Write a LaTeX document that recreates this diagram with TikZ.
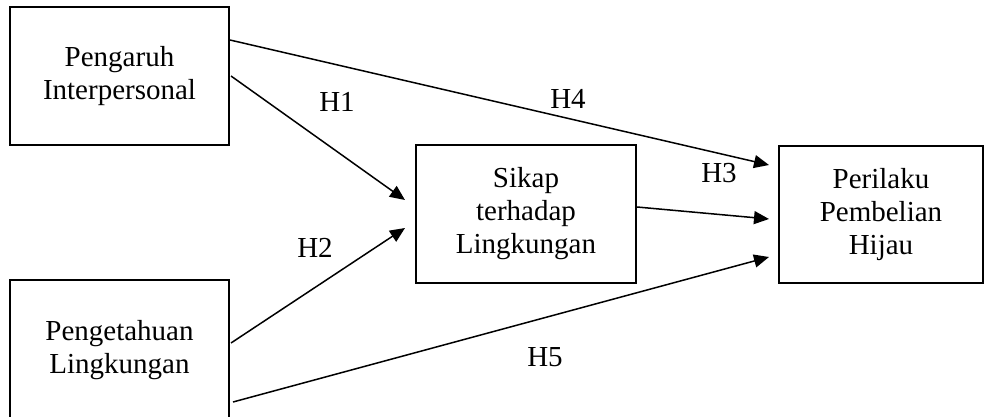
\documentclass[tikz,border=0pt]{standalone}
\usepackage{fontspec}
\setmainfont{Liberation Serif}
\usetikzlibrary{arrows.meta}
\begin{document}
\begin{tikzpicture}[x=1pt,y=1pt,
  box/.style={draw,line width=2pt,rectangle,inner sep=0pt,align=center,
    font=\fontsize{29}{33}\selectfont},
  conn/.style={line width=1.5pt,-{Triangle[length=15pt,width=13pt]}},
  lbl/.style={font=\fontsize{29}{33}\selectfont,inner sep=0pt}]
\useasboundingbox (0,0) rectangle (986,416);
\node[box,minimum width=219pt,minimum height=138pt] (b1) at (119.5,340) {Pengaruh\\Interpersonal};
\node[box,minimum width=219pt,minimum height=140pt] (b2) at (119.5,66) {Pengetahuan\\Lingkungan};
\node[box,minimum width=220pt,minimum height=138pt] (b3) at (526,202) {Sikap\\terhadap\\Lingkungan};
\node[box,minimum width=204pt,minimum height=137pt] (b4) at (881,201.5) {Perilaku\\Pembelian\\Hijau};
\draw[conn] ([yshift=36pt]b1.east) -- ([xshift=-9pt,yshift=49.5pt]b4.west);
\draw[conn] ([xshift=1pt]b1.east) -- ([xshift=-10pt,yshift=14pt]b3.west);
\draw[conn] ([xshift=1pt,yshift=7pt]b2.east) -- ([xshift=-10pt,yshift=-14pt]b3.west);
\draw[conn] ([yshift=7pt]b3.east) -- ([xshift=-9pt,yshift=-4.5pt]b4.west);
\draw[conn] ([xshift=3pt,yshift=-52pt]b2.east) -- ([xshift=-9pt,yshift=-42.5pt]b4.west);
\node[lbl] (h1) at (337,314) {H1};
\node[lbl] (h4) at (568,317) {H4};
\node[lbl] (h2) at (315,168) {H2};
\node[lbl] (h3) at (719,243) {H3};
\node[lbl] (h5) at (545,59) {H5};
\end{tikzpicture}
\end{document}
